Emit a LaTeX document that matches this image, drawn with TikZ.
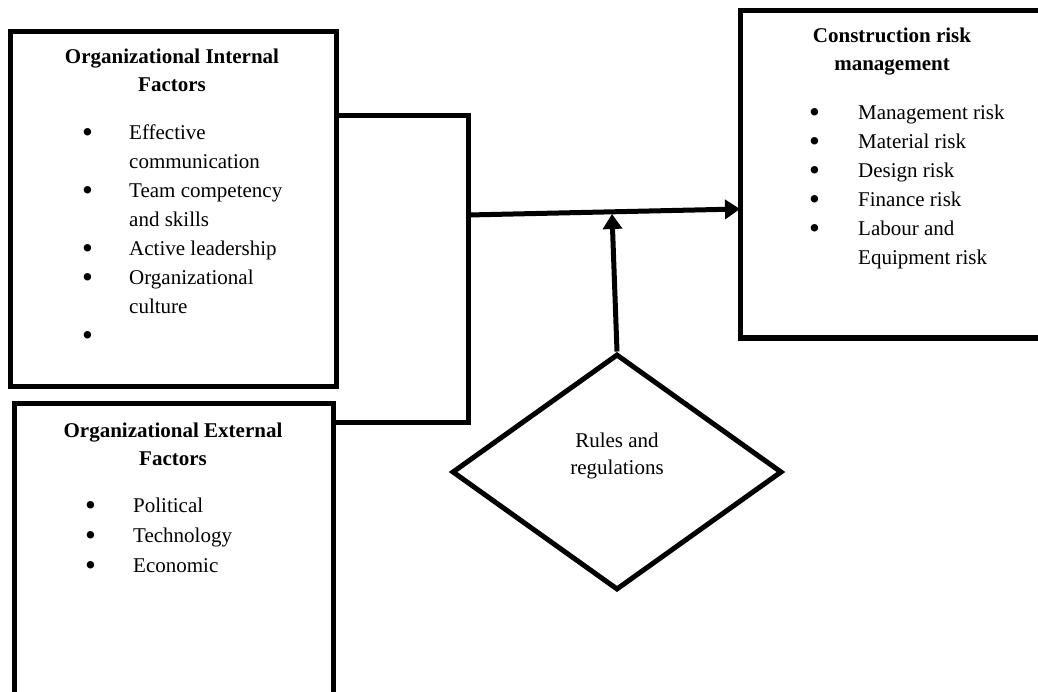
\documentclass[tikz,border=0pt]{standalone}
\usepackage{fontspec}
\setmainfont{Liberation Serif}
\usetikzlibrary{arrows.meta,shapes.geometric}
\newcommand{\bul}{\raisebox{-3pt}{\fontsize{31}{29}\selectfont\textbullet}}
\begin{document}
\begin{tikzpicture}[x=1pt,y=-1pt,
  frame/.style={draw=black,line width=5pt,rectangle,inner sep=0pt,outer sep=0pt},
  conn/.style={draw=black,line width=5pt,line join=miter},
  arr/.style={conn,-{Triangle[length=15pt,width=19pt]}},
  hdr/.style={font=\fontsize{21}{28}\selectfont\bfseries,align=center,anchor=base,inner sep=0pt},
  lst/.style={font=\fontsize{21}{29}\selectfont,anchor=base west,inner sep=0pt},
  plain/.style={font=\fontsize{21}{27}\selectfont,align=center,anchor=base,inner sep=0pt}]
\useasboundingbox (0,0) rectangle (1038,692);
\clip (0,0) rectangle (1038,692);
% boxes
\node[frame,minimum width=326pt,minimum height=354pt] (box1) at (173,209) {};
\node[frame,minimum width=319pt,minimum height=320pt] (box2) at (173.5,563) {};
\node[frame,minimum width=310pt,minimum height=327pt] (box3) at (895,174.5) {};
\node[draw=black,line width=5pt,shape=diamond,minimum width=330pt,minimum height=236pt,inner sep=0pt] (dia) at (617,472) {};
% texts
\node[hdr] (t1) at (172,92) {Organizational Internal\\Factors};
\node[lst] (l1) at (82,140) {\begin{tabular}[t]{@{}p{47pt}@{}l@{}}
\bul & Effective\\ & communication\\
\bul & Team competency\\ & and skills\\
\bul & Active leadership\\
\bul & Organizational\\ & culture\\
\bul & \end{tabular}};
\node[hdr] (t2) at (173,465) {Organizational External\\Factors};
\node[lst] (l2) at (85,512) {\fontsize{21}{30}\selectfont\begin{tabular}[t]{@{}p{48pt}@{}l@{}}
\bul & Political\\
\bul & Technology\\
\bul & Economic\end{tabular}};
\node[hdr] (t3) at (892,71) {Construction risk\\management};
\node[lst] (l3) at (809,120) {\begin{tabular}[t]{@{}p{49pt}@{}l@{}}
\bul & Management risk\\
\bul & Material risk\\
\bul & Design risk\\
\bul & Finance risk\\
\bul & Labour and\\ & Equipment risk\end{tabular}};
\node[plain] (td) at (617,474) {Rules and\\regulations};
% connectors
\coordinate (bt) at (468,116);
\coordinate (bb) at (468,422);
\coordinate (jn) at (468,215);
\coordinate (ae) at (box3.west |- 0,209);
\coordinate (up) at (612,214);
\draw[conn] (box1.east |- bt) -- (bt) -- (bb) -- (box2.east |- bb);
\draw[arr] (jn) -- (ae);
\draw[arr] (dia.north) -- (up);
\end{tikzpicture}
\end{document}
